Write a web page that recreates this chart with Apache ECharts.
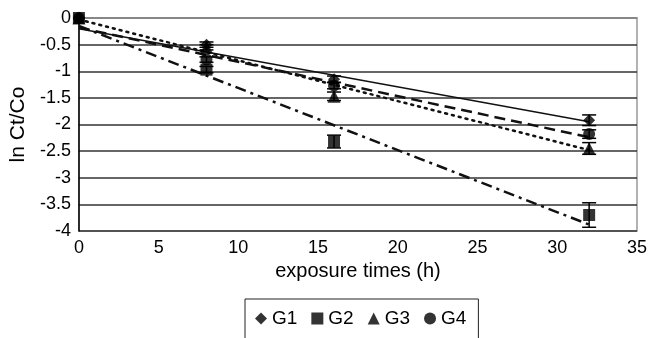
<!DOCTYPE html>
<html>
<head>
<meta charset="utf-8">
<script src="https://cdn.jsdelivr.net/npm/echarts@6/dist/echarts.min.js"></script>
<style>
  html, body { margin: 0; padding: 0; background: #fff; }
  #chart { width: 650px; height: 338px; }
</style>
</head>
<body>
<div id="chart"></div>
<script>
// exposure times (h)
const times = [0, 8, 16, 32];
const groups = ["G1", "G2", "G3", "G4"];
const symbols = ["diamond", "rect", "triangle", "circle"];

// ln Ct/Co per group
const g1 = [0, -0.5, -1.15, -1.92];
const g2 = [0, -0.97, -2.32, -3.7];
const g3 = [0, -0.55, -1.47, -2.45];
const g4 = [0, -0.78, -1.27, -2.18];

// error bar half-widths
const g1Err = [0, 0.05, 0.06, 0.1];
const g2Err = [0, 0.06, 0.12, 0.23];
const g3Err = [0, 0.05, 0.08, 0.11];
const g4Err = [0, 0.05, 0.06, 0.08];

// trend lines, value at first and last exposure time
const trendX = [0, 32];
const g1Trend = [-0.2, -1.95];
const g2Trend = [-0.15, -3.88];
const g3Trend = [-0.03, -2.48];
const g4Trend = [-0.18, -2.24];

const values = [g1, g2, g3, g4];
const errors = [g1Err, g2Err, g3Err, g4Err];
const trends = [g1Trend, g2Trend, g3Trend, g4Trend];
const trendStyles = [
  { type: "solid", width: 1.5 },
  { type: [11, 5, 3, 5], width: 2.5 },
  { type: [2, 5], width: 2.5, cap: "round" },
  { type: [11, 6], width: 2.5 },
];

const font = "Liberation Sans";
const chart = echarts.init(document.getElementById("chart"));

const trendSeries = trends.map((t, i) => ({
  name: groups[i] + " trend",
  type: "line",
  data: trendX.map((x, k) => [x, t[k]]),
  symbol: "none",
  silent: true,
  lineStyle: { color: "#111", type: trendStyles[i].type, width: trendStyles[i].width, cap: trendStyles[i].cap || "butt" },
  z: 2,
}));

const errorSeries = values.map((v, i) => ({
  name: groups[i] + " err",
  type: "custom",
  silent: true,
  clip: false,
  data: times.map((x, k) => [x, v[k], errors[i][k]]),
  renderItem: (params, api) => {
    const x = api.value(0);
    const y = api.value(1);
    const e = api.value(2);
    if (!e) return;
    const top = api.coord([x, y + e]);
    const bot = api.coord([x, y - e]);
    const hw = 7;
    const style = { stroke: "#000", lineWidth: 1.5 };
    return {
      type: "group",
      children: [
        { type: "line", shape: { x1: top[0], y1: top[1], x2: bot[0], y2: bot[1] }, style },
        { type: "line", shape: { x1: top[0] - hw, y1: top[1], x2: top[0] + hw, y2: top[1] }, style },
        { type: "line", shape: { x1: bot[0] - hw, y1: bot[1], x2: bot[0] + hw, y2: bot[1] }, style },
      ],
    };
  },
  z: 3,
}));

const pointSeries = values.map((v, i) => ({
  name: groups[i],
  type: "scatter",
  symbol: symbols[i],
  symbolSize: i === 2 ? 13 : 12,
  clip: false,
  data: times.map((x, k) => [x, v[k]]),
  itemStyle: { color: "#000" },
  z: 4,
}));

chart.setOption({
  animation: false,
  textStyle: { fontFamily: font },
  grid: {
    left: 78, right: 10, top: 18, bottom: 107,
    show: true, borderColor: "#999", borderWidth: 1.5,
  },
  legend: {
    data: groups,
    left: 245,
    top: 299,
    orient: "horizontal",
    itemWidth: 12,
    itemHeight: 12,
    itemGap: 14,
    padding: [10, 12, 24, 10],
    borderColor: "#222",
    borderWidth: 1,
    textStyle: { fontFamily: font, fontSize: 19, color: "#000" },
  },
  xAxis: {
    type: "value",
    min: 0, max: 35, interval: 5,
    name: "exposure times (h)",
    nameLocation: "middle",
    nameGap: 30,
    nameTextStyle: { fontFamily: font, fontSize: 20, color: "#000" },
    axisLine: { lineStyle: { color: "#999", width: 1.5 } },
    axisTick: { show: false },
    axisLabel: { fontFamily: font, fontSize: 18, color: "#000", margin: 8 },
    splitLine: { show: false },
  },
  yAxis: {
    type: "value",
    min: -4, max: 0, interval: 0.5,
    name: "ln Ct/Co",
    nameLocation: "middle",
    nameGap: 48,
    nameTextStyle: { fontFamily: font, fontSize: 21, color: "#000" },
    axisLine: { show: true, onZero: false, lineStyle: { color: "#000", width: 1.5 } },
    axisTick: { show: false },
    axisLabel: { fontFamily: font, fontSize: 18, color: "#000", margin: 8 },
    splitLine: { lineStyle: { color: "#333", width: 1.5 } },
  },
  series: [...trendSeries, ...errorSeries, ...pointSeries],
});
</script>
</body>
</html>
